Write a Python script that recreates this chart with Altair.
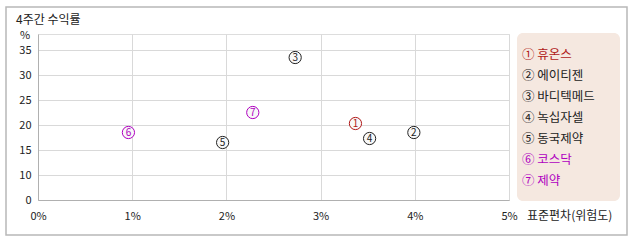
import altair as alt
import pandas as pd

# data
labels = ["①", "②", "③", "④", "⑤", "⑥", "⑦"]
digits = ["1", "2", "3", "4", "5", "6", "7"]
names = ["휴온스", "에이티젠", "바디텍메드", "녹십자셀", "동국제약", "코스닥", "제약"]
risk = [3.37, 3.99, 2.73, 3.52, 1.96, 0.96, 2.28]          # 표준편차 (%)
ret = [20.3, 18.5, 33.5, 17.3, 16.5, 18.5, 22.5]            # 4주간 수익률 (%)
colors = ["#b01818", "#222222", "#222222", "#222222", "#222222", "#b000c0", "#b000c0"]
x_ticks = [0, 1, 2, 3, 4, 5]
y_ticks = [5, 10, 15, 20, 25, 30, 35]

FONT = "Noto Sans CJK KR"

df = pd.DataFrame({
    "lab": labels, "digit": digits, "name": names, "risk": risk, "ret": ret,
    "color": colors, "rank": list(range(1, 8)),
})
df["legend"] = df["lab"] + " " + df["name"]

W, H = 471, 166

xs = alt.Scale(domain=[0, 5], nice=False, zero=False)
ys = alt.Scale(domain=[5, 38.2], nice=False, zero=False)

xaxis = alt.Axis(values=x_ticks, tickCount=20, labelExpr="datum.value + '%'", title=None,
                 grid=True, gridColor="#d9d9d9", domain=True, domainColor="#b0b0b0",
                 ticks=False, labelPadding=10, labelFont=FONT, labelFontSize=11,
                 labelColor="#222222", labelFlush=False, labelOverlap=False)
yaxis = alt.Axis(values=y_ticks, tickCount=20,
                 labelExpr="datum.value == 5 ? '0' : datum.label",
                 title=None, grid=True, gridColor="#d9d9d9", domain=True,
                 domainColor="#b0b0b0", ticks=False, labelPadding=7, labelFont=FONT,
                 labelFontSize=11, labelColor="#222222", labelOverlap=False,
                 labelFlush=False)

base = alt.Chart(df)
one = base.transform_filter("datum.rank == 1")

# decorations (outer frame, legend box)
frame = one.mark_rect(
    fillOpacity=0, stroke="#b8b8b8", strokeWidth=1.5
).encode(x=alt.value(-32), x2=alt.value(589), y=alt.value(-27), y2=alt.value(201))

axes = base.mark_point(opacity=0).encode(
    x=alt.X("risk:Q", scale=xs, axis=xaxis),
    y=alt.Y("ret:Q", scale=ys, axis=yaxis),
)

circles = base.mark_circle(size=150, fill="#f8f8f8", strokeWidth=1, opacity=1).encode(
    x=alt.X("risk:Q", scale=xs),
    y=alt.Y("ret:Q", scale=ys),
    stroke=alt.Color("color:N", scale=None),
)

nums = base.mark_text(font=FONT, fontSize=10, baseline="middle", align="center", dy=0.5).encode(
    x=alt.X("risk:Q", scale=xs),
    y=alt.Y("ret:Q", scale=ys),
    text="digit:N",
    color=alt.Color("color:N", scale=None),
)

legend_box = one.mark_rect(
    fill="#f5e8e0", cornerRadius=6
).encode(x=alt.value(479), x2=alt.value(582), y=alt.value(-1), y2=alt.value(167))

legend_text = base.transform_calculate(ly="datum.rank * 21").mark_text(
    font=FONT, fontSize=12.5, align="left", baseline="middle"
).encode(
    x=alt.value(484),
    y=alt.Y("ly:Q", scale=None, axis=None),
    text="legend:N",
    color=alt.Color("color:N", scale=None),
)

title = one.mark_text(font=FONT, fontSize=12, align="left", baseline="middle",
                      text="4주간 수익률", color="#222222").encode(
    x=alt.value(-22), y=alt.value(-14))
ytitle = one.mark_text(font=FONT, fontSize=11, align="center", baseline="middle",
                       text="%", color="#222222").encode(
    x=alt.value(-13), y=alt.value(2))
xtitle = one.mark_text(font=FONT, fontSize=12, align="left", baseline="middle",
                       text="표준편차(위험도)", color="#222222").encode(
    x=alt.value(489), y=alt.value(182))

chart = alt.layer(
    frame, axes, circles, nums, legend_box, legend_text, title, ytitle, xtitle
).properties(
    width=W, height=H,
    autosize=alt.AutoSizeParams(type="none"),
    padding={"left": 38, "top": 34, "right": 129, "bottom": 42},
).configure_view(
    fill="#f4f4f4", stroke="#b0b0b0", strokeWidth=1
).configure(background="white")

chart.save("out.html", embed_options={"renderer": "svg", "actions": False})
